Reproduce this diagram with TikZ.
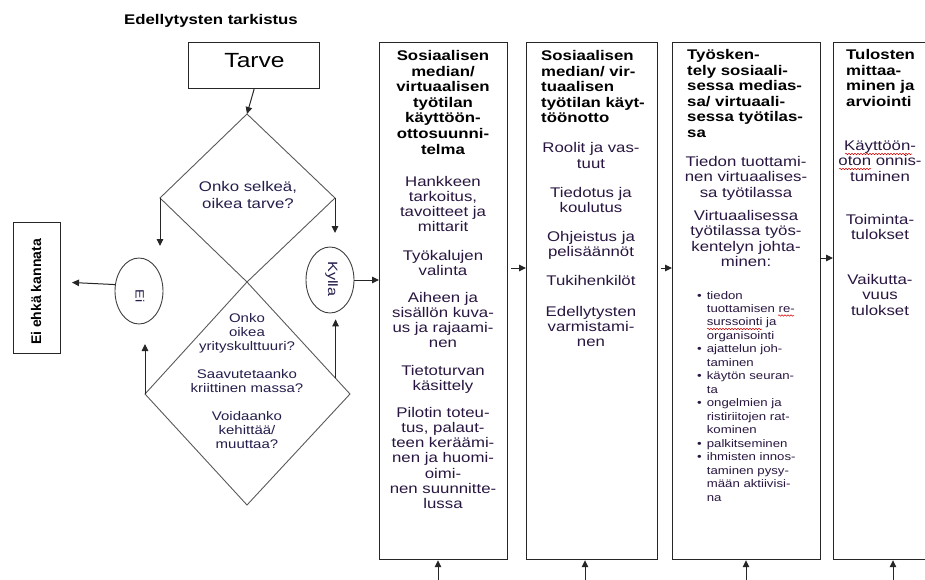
\documentclass[tikz,border=0pt]{standalone}
\usepackage{fontspec}
\setmainfont[FakeStretch=1.2]{Liberation Sans}
\newfontfamily\plainfont{Liberation Sans}
\usetikzlibrary{arrows.meta,shapes.geometric,decorations.pathmorphing,calc}
\definecolor{ink}{RGB}{40,22,64}
\definecolor{dink}{RGB}{35,30,75}
\begin{document}
\begin{tikzpicture}[x=1pt,y=-1pt,
  box/.style={draw=black!85, line width=1.2pt, inner sep=0pt},
  arr/.style={-{Triangle[length=7pt,width=6.5pt]}, line width=1pt, draw=black!85},
  dline/.style={draw=black!65, line width=0.9pt},
  oval/.style={draw=black!75, line width=0.9pt, ellipse, inner sep=0pt, minimum width=48pt, minimum height=66pt},
  hd/.style={font=\fontsize{14}{15.5}\selectfont\bfseries, inner sep=0pt, anchor=base west, align=left},
  hdc/.style={font=\fontsize{14}{15.5}\selectfont\bfseries, inner sep=0pt, anchor=base, align=center},
  bd/.style={font=\fontsize{14}{15.3}\selectfont, text=ink, inner sep=0pt, anchor=base, align=center},
  dq/.style={font=\fontsize{12.5}{14.3}\selectfont, text=dink, inner sep=0pt, anchor=base, align=center},
  wavy/.style={draw=red!85!black, line width=0.5pt, decorate, decoration={snake, amplitude=0.7pt, segment length=3pt}}
]
\useasboundingbox (0,0) rectangle (925,580);
\clip (0,0) rectangle (925,580);

% title
\node[font=\fontsize{14}{16}\selectfont\bfseries, inner sep=0pt, anchor=base] (title) at (211,25) {Edellytysten tarkistus};

% Tarve
\node[box, anchor=north west, minimum width=131pt, minimum height=46pt] (tarve) at (188,42) {};
\node[font=\fontsize{20.5}{22}\selectfont, inner sep=0pt, anchor=base] (tarvetext) at (254.5,68) {Tarve};

% diamonds
\coordinate (t1) at (247,114);
\coordinate (r1) at (335,198);
\coordinate (b1) at (247,282);
\coordinate (l1) at (160,198);
\coordinate (t2) at (247,282);
\coordinate (r2) at (350,394);
\coordinate (b2) at (247,505);
\coordinate (l2) at (145,394);
\draw[dline] (t1) -- (r1) -- (b1) -- (l1) -- cycle;
\draw[dline] (t2) -- (r2) -- (b2) -- (l2) -- cycle;

% multi-line nodes: anchor base = baseline of the last line
\node[font=\fontsize{14}{17}\selectfont, text=dink, inner sep=0pt, anchor=base, align=center] (q1) at (248,208) {Onko selkeä,\\oikea tarve?};
\node[dq] (q2) at (247,350.6) {Onko\\oikea\\yrityskulttuuri?};
\node[dq] (q3) at (247,392.3) {Saavutetaanko\\kriittinen massa?};
\node[dq] (q4) at (247,448.6) {Voidaanko\\kehittää/\\muuttaa?};

% ellipses
\node[oval] (ei) at (139,291) {};
\node[font=\fontsize{12}{14}\selectfont, text=dink, inner sep=0pt, rotate=-90] (eitext) at (140,296) {Ei};
\node[oval] (ky) at (330,280) {};
\node[font=\fontsize{13.5}{15}\selectfont, text=dink, inner sep=0pt, rotate=-90] (kytext) at (331.5,279) {Kylla};

% Ei ehka kannata
\node[box, anchor=north west, minimum width=47pt, minimum height=131pt] (eibox) at (13,222) {};
\node[font=\plainfont\fontsize{14}{16}\selectfont\bfseries, inner sep=0pt, rotate=90] (eiboxtext) at (36,292) {Ei ehkä kannata};

% arrows left part
\coordinate (eiIn) at (160,246);
\coordinate (kyIn) at (335,233);
\coordinate (eiOut) at (72,282.5);
\coordinate (eiUp) at (145,344);
\coordinate (rs) at ($(t2)!0.86!(r2)$);
\coordinate (kyUp) at ($(rs)+(0,-59)$);
\draw[arr] (tarve.south) -- (t1);
\draw[arr] (l1) -- (eiIn);
\draw[arr] (r1) -- (kyIn);
\draw[arr] (ei.165) -- (eiOut);
\draw[arr] (l2) -- (eiUp);
\draw[arr] (rs) -- (kyUp);

% columns
\node[box, anchor=north west, minimum width=128pt, minimum height=517pt] (c1) at (379,42) {};
\node[box, anchor=north west, minimum width=131pt, minimum height=517pt] (c2) at (526,42) {};
\node[box, anchor=north west, minimum width=148pt, minimum height=517pt] (c3) at (672,42) {};
\node[box, anchor=north west, minimum width=127pt, minimum height=517pt] (c4) at (833,42) {};

\draw[arr] (ky.east) -- (c1.west |- ky.east);
\coordinate (a12) at (511,268);
\coordinate (a23) at (661,268);
\coordinate (a34) at (821,258);
\draw[arr] (a12) -- (c2.west |- a12);
\draw[arr] (a23) -- (c3.west |- a23);
\draw[arr] (a34) -- (c4.west |- a34);

\coordinate (u1) at (438,582);
\coordinate (u2) at (585,582);
\coordinate (u3) at (746,582);
\coordinate (u4) at (893,582);
\draw[arr] (u1) -- (u1 |- c1.south);
\draw[arr] (u2) -- (u2 |- c2.south);
\draw[arr] (u3) -- (u3 |- c3.south);
\draw[arr] (u4) -- (u4 |- c4.south);

% column 1
\node[hdc] (c1t) at (443,154) {Sosiaalisen\\median/\\virtuaalisen\\työtilan\\käyttöön-\\ottosuunni-\\telma};
\node[bd] (c1a) at (443,231.9) {Hankkeen\\tarkoitus,\\tavoitteet ja\\mittarit};
\node[bd] (c1b) at (443,275.3) {Työkalujen\\valinta};
\node[bd] (c1c) at (443,347.9) {Aiheen ja\\sisällön kuva-\\us ja rajaami-\\nen};
\node[bd] (c1d) at (443,390.3) {Tietoturvan\\käsittely};
\node[bd] (c1e) at (443,508.8) {Pilotin toteu-\\tus, palaut-\\teen keräämi-\\nen ja huomi-\\oimi-\\nen suunnitte-\\lussa};

% column 2
\node[hd] (c2t) at (541,123) {Sosiaalisen\\median/ vir-\\tuaalisen\\työtilan käyt-\\töönotto};
\node[bd] (c2a) at (591,168.3) {Roolit ja vas-\\tuut};
\node[bd] (c2b) at (591,212.3) {Tiedotus ja\\koulutus};
\node[bd] (c2c) at (591,256.3) {Ohjeistus ja\\pelisäännöt};
\node[bd] (c2d) at (591,285) {Tukihenkilöt};
\node[bd] (c2e) at (591,346.6) {Edellytysten\\varmistami-\\nen};

% column 3
\node[hd] (c3t) at (687,137.5) {Työsken-\\tely sosiaali-\\sessa medias-\\sa/ virtuaali-\\sessa työtilas-\\sa};
\node[bd] (c3a) at (746,197.1) {Tiedon tuottami-\\nen virtuaalises-\\sa työtilassa};
\node[bd] (c3b) at (746,266.4) {Virtuaalisessa\\työtilassa työs-\\kentelyn johta-\\minen:};
\node[inner sep=0pt, anchor=base west, text=ink, font=\fontsize{11}{13.47}\selectfont] (c3list) at (697,299) {%
\begin{tabular}[t]{@{}l@{\hspace{5pt}}l@{}}
•&tiedon\\
 &tuottamisen re-\\
 &surssointi ja\\
 &organisointi\\
•&ajattelun joh-\\
 &taminen\\
•&käytön seuran-\\
 &ta\\
•&ongelmien ja\\
 &ristiriitojen rat-\\
 &kominen\\
•&palkitseminen\\
•&ihmisten innos-\\
 &taminen pysy-\\
 &mään aktiivisi-\\
 &na
\end{tabular}};
\coordinate (w1a) at (778,315.5);
\coordinate (w1b) at (794,315.5);
\coordinate (w2a) at (707,329);
\coordinate (w2b) at (762,329);
\draw[wavy] (w1a) -- (w1b);
\draw[wavy] (w2a) -- (w2b);

% column 4
\node[hd] (c4t) at (846,106.5) {Tulosten\\mittaa-\\minen ja\\arviointi};
\node[bd] (c4a) at (880,181.1) {Käyttöön-\\oton onnis-\\tuminen};
\node[bd] (c4b) at (880,239.8) {Toiminta-\\tulokset};
\node[bd] (c4c) at (880,315.1) {Vaikutta-\\vuus\\tulokset};
\coordinate (w3a) at (845,154);
\coordinate (w3b) at (912,154);
\coordinate (w4a) at (839,169);
\coordinate (w4b) at (871,169);
\draw[wavy] (w3a) -- (w3b);
\draw[wavy] (w4a) -- (w4b);
\end{tikzpicture}
\end{document}
